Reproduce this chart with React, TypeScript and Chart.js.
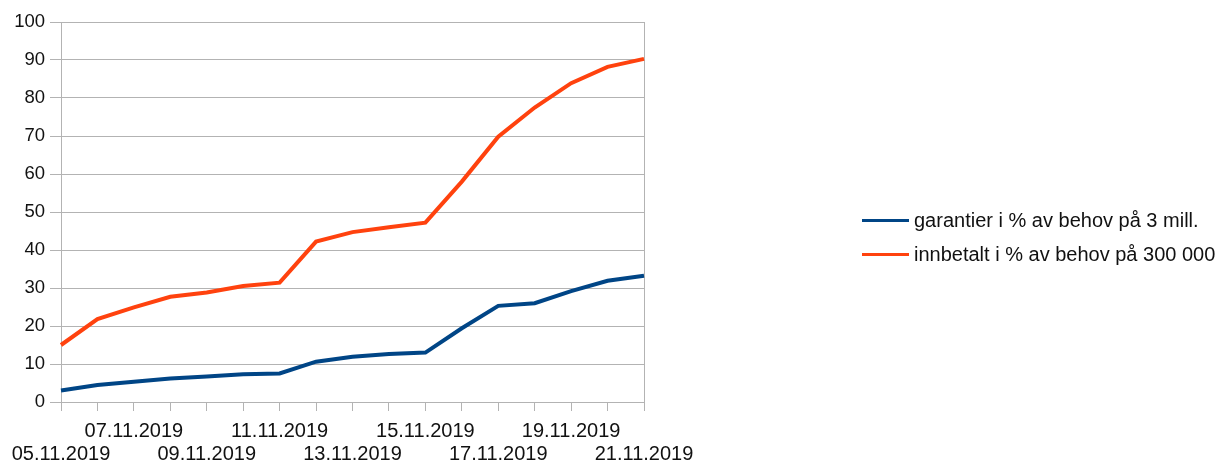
import React, { useEffect, useRef } from "react";
import { Chart, registerables } from "chart.js";

Chart.register(...registerables);

const dates = [
  "05.11.2019", "06.11.2019", "07.11.2019", "08.11.2019", "09.11.2019",
  "10.11.2019", "11.11.2019", "12.11.2019", "13.11.2019", "14.11.2019",
  "15.11.2019", "16.11.2019", "17.11.2019", "18.11.2019", "19.11.2019",
  "20.11.2019", "21.11.2019",
];

const garantier = [3.0, 4.5, 5.3, 6.2, 6.7, 7.3, 7.5, 10.6, 11.9, 12.6, 13.0, 19.4, 25.3, 26.0, 29.2, 31.9, 33.2];
const innbetalt = [15.0, 21.8, 24.9, 27.7, 28.8, 30.5, 31.4, 42.2, 44.7, 46.0, 47.2, 58.0, 69.8, 77.5, 83.9, 88.2, 90.3];

const seriesNames = ["garantier i % av behov på 3 mill.", "innbetalt i % av behov på 300 000"];
const seriesColors = ["#004586", "#ff420e"];

const yMin = 0;
const yMax = 100;
const yStep = 10;

const FONT = "'Liberation Sans', Arial, sans-serif";
const GRID = "#b3b3b3";
const TEXT = "#111111";

export default function App() {
  const canvasRef = useRef<HTMLCanvasElement | null>(null);

  useEffect(() => {
    if (!canvasRef.current) return;
    const chart = new Chart(canvasRef.current, {
      type: "line",
      data: {
        labels: dates,
        datasets: [
          {
            label: seriesNames[0],
            data: garantier,
            borderColor: seriesColors[0],
            backgroundColor: seriesColors[0],
            borderWidth: 4,
            pointRadius: 0,
            tension: 0,
          },
          {
            label: seriesNames[1],
            data: innbetalt,
            borderColor: seriesColors[1],
            backgroundColor: seriesColors[1],
            borderWidth: 4,
            pointRadius: 0,
            tension: 0,
          },
        ],
      },
      options: {
        animation: false,
        responsive: true,
        maintainAspectRatio: false,
        layout: { padding: { left: 0, right: 586, top: 22, bottom: 0 } },
        plugins: {
          legend: { display: false },
          tooltip: { enabled: false },
        },
        scales: {
          x: {
            type: "category",
            offset: false,
            afterFit: (s: any) => {
              s.height = 62;
            },
            border: { display: true, color: GRID, width: 1 },
            grid: {
              display: true,
              drawOnChartArea: true,
              drawTicks: true,
              tickLength: 9,
              tickColor: GRID,
              color: (ctx: any) => (ctx.index === dates.length - 1 ? GRID : "rgba(0,0,0,0)"),
              lineWidth: 1,
            },
            ticks: {
              autoSkip: false,
              maxRotation: 0,
              minRotation: 0,
              padding: 9,
              color: TEXT,
              font: { family: FONT, size: 20, lineHeight: 1.15 },
              callback: (_v: any, i: number) => {
                if (i % 4 === 0) return ["", dates[i]];
                if (i % 4 === 2) return [dates[i]];
                return "";
              },
            },
          },
          y: {
            min: yMin,
            max: yMax,
            afterFit: (s: any) => {
              s.width = 61;
            },
            border: { display: true, color: GRID, width: 1 },
            grid: {
              color: GRID,
              lineWidth: 1,
              drawTicks: true,
              tickLength: 11,
              tickColor: GRID,
            },
            ticks: {
              stepSize: yStep,
              padding: 5,
              color: TEXT,
              font: { family: FONT, size: 18.5 },
            },
          },
        },
      },
    });
    return () => chart.destroy();
  }, []);

  const legendRowTops = [220, 254];

  return (
    <div style={{ position: "absolute", left: 0, top: 0, width: 1230, height: 464, background: "#fff" }}>
      <canvas ref={canvasRef} width={1230} height={464} />
      {seriesNames.map((name, i) => (
        <div
          key={name}
          style={{
            position: "absolute",
            left: 862,
            top: legendRowTops[i] - 12,
            height: 24,
            display: "flex",
            alignItems: "center",
            whiteSpace: "nowrap",
            fontFamily: FONT,
            fontSize: 20,
            color: TEXT,
          }}
        >
          <span style={{ display: "inline-block", width: 47, height: 3, background: seriesColors[i], marginRight: 5 }} />
          <span>{name}</span>
        </div>
      ))}
    </div>
  );
}
